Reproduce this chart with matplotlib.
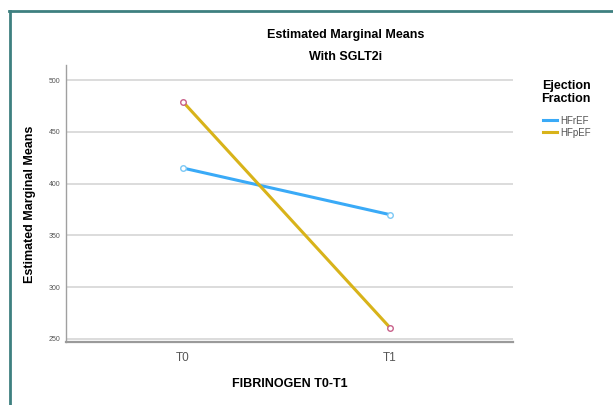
import matplotlib
matplotlib.use("Agg")
import matplotlib.pyplot as plt
from matplotlib.lines import Line2D

# Dati
TIMEPOINTS = ["T0", "T1"]
HFREF = [415, 370]
HFPEF = [479, 261]
Y_TICKS = [250, 300, 350, 400, 450, 500]

plt.rcParams["font.family"] = ["Liberation Sans", "DejaVu Sans"]

fig = plt.figure(figsize=(6.13, 4.05), dpi=100)
ax = fig.add_axes([66 / 613, 1 - 342 / 405, 447 / 613, 277 / 405])

x = list(range(len(TIMEPOINTS)))
ax.plot(x, HFREF, color="#3aaaf7", lw=2.2, marker="o", ms=4,
        mfc="white", mec="#7cc8f5", mew=1.0, zorder=3)
ax.plot(x, HFPEF, color="#d8b31a", lw=2.2, marker="o", ms=4,
        mfc="white", mec="#c8608a", mew=1.0, zorder=3)

ax.set_xlim(-0.565, 1.595)
ax.set_ylim(247, 514.5)
ax.set_yticks(Y_TICKS)
ax.set_xticks(x)
ax.set_xticklabels(TIMEPOINTS)
ax.tick_params(axis="y", length=0, labelsize=5, labelcolor="#555555", pad=4)
ax.tick_params(axis="x", length=0, labelsize=8.5, labelcolor="#555555", pad=7)
ax.grid(axis="y", color="#d6d6d6", lw=1.2)
ax.set_axisbelow(True)

for s in ["top", "right"]:
    ax.spines[s].set_visible(False)
ax.spines["left"].set_color("#a0a0a0")
ax.spines["bottom"].set_color("#9a9a9a")
ax.spines["bottom"].set_linewidth(1.6)
ax.spines["left"].set_linewidth(1.0)

ax.set_xlabel("FIBRINOGEN T0-T1", fontsize=9, fontweight="bold", labelpad=10)
fig.text(30 / 613, 1 - 204 / 405, "Estimated Marginal Means", rotation=90,
         fontsize=9, fontweight="bold", ha="center", va="center")

fig.text(346 / 613, 1 - 35 / 405, "Estimated Marginal Means", fontsize=9,
         fontweight="bold", ha="center", va="center")
fig.text(346 / 613, 1 - 57 / 405, "With SGLT2i", fontsize=9,
         fontweight="bold", ha="center", va="center")

# titolo legenda separato
fig.text(566 / 613, 1 - 86 / 405, "Ejection", fontsize=9, fontweight="bold",
         ha="center", va="center")
fig.text(566 / 613, 1 - 99 / 405, "Fraction", fontsize=9, fontweight="bold",
         ha="center", va="center")

handles = [Line2D([0], [0], color="#3aaaf7", lw=2.2),
           Line2D([0], [0], color="#d8b31a", lw=2.2)]
leg = fig.legend(handles, ["HFrEF", "HFpEF"],
                 loc="upper left", bbox_to_anchor=(538 / 613, 1 - 111 / 405),
                 frameon=False, fontsize=7, handlelength=1.5,
                 handletextpad=0.3, labelspacing=0.2, borderpad=0)
for t in leg.get_texts():
    t.set_color("#555555")

# bordo verde-azzurro
fig.add_artist(Line2D([10 / 613, 10 / 613], [0, 1 - 11 / 405],
                      color="#3e8080", lw=2.0, transform=fig.transFigure))
fig.add_artist(Line2D([9 / 613, 1], [1 - 11 / 405, 1 - 11 / 405],
                      color="#3e8080", lw=2.0, transform=fig.transFigure))

fig.savefig("out.png", dpi=100)
